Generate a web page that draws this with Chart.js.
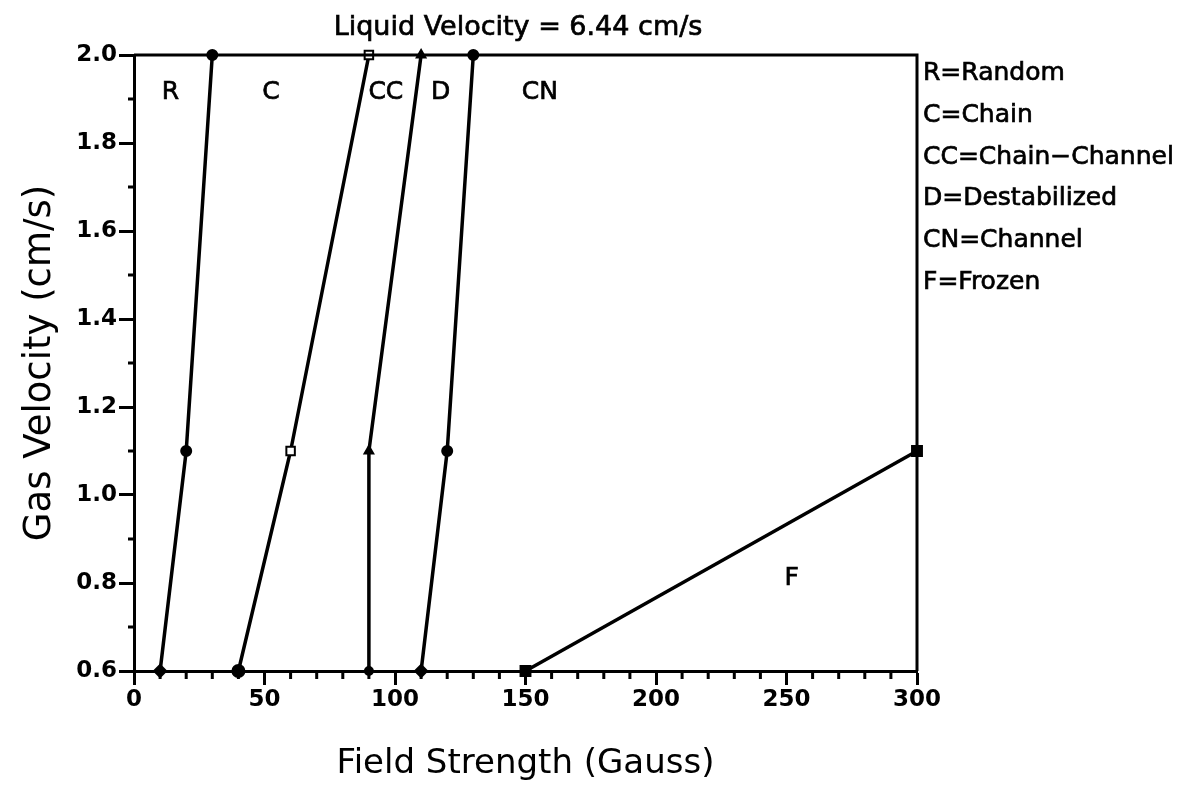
<!DOCTYPE html>
<html>
<head>
<meta charset="utf-8">
<script src="https://cdn.jsdelivr.net/npm/chart.js@4.4.1/dist/chart.umd.min.js"></script>
<style>
  html, body { margin: 0; padding: 0; background: #fff; }
  canvas { display: block; }
</style>
</head>
<body>
<canvas id="flow" width="1189" height="786"></canvas>
<script>
/* flow regime map — field strength vs gas velocity */

const gasLevels = [0.6, 1.1, 2.0];
const fieldRC = [10, 20, 30];      // Random | Chain
const fieldCCC = [40, 60, 90];     // Chain | Chain-Channel
const fieldCCD = [90, 90, 110];    // Chain-Channel | Destabilized
const fieldDCN = [110, 120, 130];  // Destabilized | Channel
const fieldFrozen = [150, 300];
const gasFrozen = [0.6, 1.1];

const regionNames = ["R", "C", "CC", "D", "CN", "F"];
const regionField = [14, 52.5, 96.5, 117.5, 155.5, 252];
const regionGas = [1.915, 1.915, 1.915, 1.915, 1.915, 0.81];

const legendLines = ["R=Random", "C=Chain", "CC=Chain\u2212Channel", "D=Destabilized", "CN=Channel", "F=Frozen"];
const titleText = "Liquid Velocity = 6.44 cm/s";

const FONT = "'DejaVu Sans', sans-serif";
const INK = "#000";

const pts = (xs, ys) => xs.map((x, i) => ({ x, y: ys[i] }));

function line(xs, ys, styles, radii, fills) {
  return {
    data: pts(xs, ys),
    borderColor: INK, borderWidth: 3.5,
    pointStyle: styles, pointRadius: radii,
    pointBackgroundColor: fills || INK, pointBorderColor: INK, pointBorderWidth: 2,
    showLine: true, tension: 0, fill: false, clip: false,
  };
}

// slightly heavier text, the original lettering is thick
function inkText(ctx, t, x, y) {
  ctx.fillText(t, x, y);
  ctx.strokeText(t, x, y);
}

/* ---------- decorations: box, minor ticks, texts ---------- */
const deco = {
  id: "deco",
  afterDraw(chart) {
    const { ctx, chartArea: a, scales: { x, y } } = chart;
    ctx.save();
    ctx.strokeStyle = INK;
    ctx.lineWidth = 3;
    ctx.beginPath();
    ctx.moveTo(a.left, a.top); ctx.lineTo(a.right, a.top); ctx.lineTo(a.right, a.bottom);
    ctx.stroke();

    // minor ticks
    ctx.beginPath();
    for (let v = 10; v < 300; v += 10) {
      if (v % 50 === 0) continue;
      const px = x.getPixelForValue(v);
      ctx.moveTo(px, a.bottom); ctx.lineTo(px, a.bottom + 8);
    }
    for (let k = 7; k < 20; k += 2) {
      const py = y.getPixelForValue(k / 10);
      ctx.moveTo(a.left, py); ctx.lineTo(a.left - 6, py);
    }
    ctx.stroke();

    ctx.fillStyle = INK;
    ctx.lineWidth = 0.7;

    // title
    ctx.textAlign = "center";
    ctx.textBaseline = "alphabetic";
    ctx.font = `27px ${FONT}`;
    inkText(ctx, titleText, 518, 35);

    // key on the right
    ctx.textAlign = "left";
    ctx.font = `25px ${FONT}`;
    legendLines.forEach((t, i) => inkText(ctx, t, a.right + 6, 80 + i * 41.8));

    // region labels
    ctx.textAlign = "center";
    ctx.textBaseline = "middle";
    regionNames.forEach((n, i) => {
      inkText(ctx, n, x.getPixelForValue(regionField[i]), y.getPixelForValue(regionGas[i]));
    });
    ctx.restore();
  },
};

new Chart(document.getElementById("flow"), {
  type: "scatter",
  data: {
    datasets: [
      line(fieldRC, gasLevels, ["rectRot", "circle", "circle"], [6, 5, 5]),
      line(fieldCCC, gasLevels, ["circle", "rect", "rect"], [6, 6, 6], [INK, "#fff", "#fff"]),
      line(fieldCCD, gasLevels, ["circle", "triangle", "triangle"], [4, 5, 5]),
      line(fieldDCN, gasLevels, ["rectRot", "circle", "circle"], [6, 5, 5]),
      line(fieldFrozen, gasFrozen, ["rect", "rect"], [7, 7]),
    ],
  },
  options: {
    responsive: false, animation: false, devicePixelRatio: 1,
    layout: { padding: { top: 55, right: 272, left: 0, bottom: 0 } },
    plugins: { legend: { display: false }, tooltip: { enabled: false } },
    scales: {
      x: {
        type: "linear", min: 0, max: 300,
        afterFit: (s) => { s.height = 115; },
        border: { color: INK, width: 3 },
        grid: { drawOnChartArea: false, tickLength: 14, tickWidth: 3, tickColor: INK },
        ticks: { stepSize: 50, color: INK, padding: 1, font: { family: FONT, size: 23, weight: "bold" } },
        title: {
          display: true, text: "Field Strength (Gauss)", color: INK,
          font: { family: FONT, size: 34 }, padding: { top: 0, bottom: 1 },
        },
      },
      y: {
        type: "linear", min: 0.6, max: 2.0,
        afterFit: (s) => { s.width = 134; },
        border: { color: INK, width: 3 },
        grid: { drawOnChartArea: false, tickLength: 15, tickWidth: 3, tickColor: INK },
        ticks: {
          stepSize: 0.2, color: INK, padding: 2,
          font: { family: FONT, size: 23, weight: "bold" },
          callback: (v) => v.toFixed(1),
        },
        title: {
          display: true, text: "Gas Velocity (cm/s)", color: INK,
          font: { family: FONT, size: 37 }, padding: { top: 18, bottom: 0 },
        },
      },
    },
  },
  plugins: [deco],
});
</script>
</body>
</html>
